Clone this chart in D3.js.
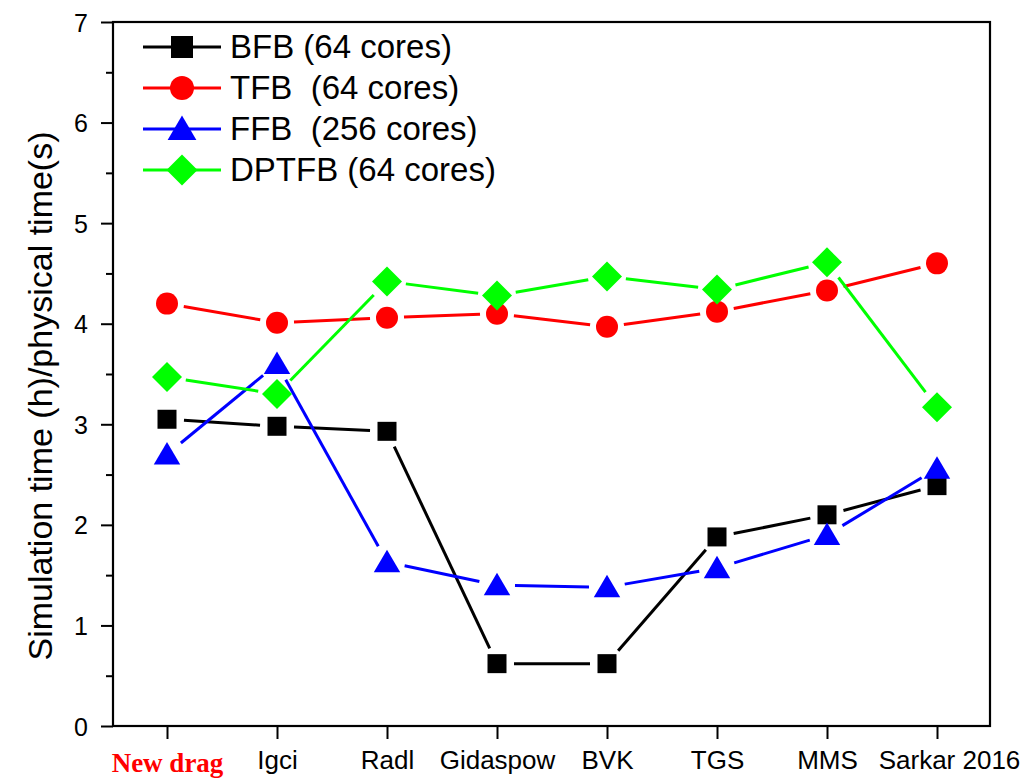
<!DOCTYPE html>
<html>
<head>
<meta charset="utf-8">
<script src="https://cdn.jsdelivr.net/npm/d3@7"></script>
<style>
  html, body { margin: 0; padding: 0; background: #fff; }
  svg { display: block; }
</style>
</head>
<body>
<svg id="chart" width="1031" height="779"></svg>
<script>
// Drag models compared
const categories = ["New drag", "Igci", "Radl", "Gidaspow", "BVK", "TGS", "MMS", "Sarkar 2016"];

// Simulation time (h) per physical time (s)
const bfb   = [3.05, 2.98, 2.93, 0.62, 0.62, 1.88, 2.10, 2.39];
const tfb   = [4.20, 4.01, 4.06, 4.10, 3.97, 4.12, 4.33, 4.60];
const ffb   = [2.70, 3.60, 1.63, 1.40, 1.38, 1.57, 1.90, 2.56];
const dptfb = [3.47, 3.30, 4.42, 4.28, 4.47, 4.34, 4.61, 3.17];

const seriesNames = ["BFB (64 cores)", "TFB  (64 cores)", "FFB  (256 cores)", "DPTFB (64 cores)"];
const yTicks = [0, 1, 2, 3, 4, 5, 6, 7];
const yMinorTicks = [0.5, 1.5, 2.5, 3.5, 4.5, 5.5, 6.5];

const series = [
  { name: seriesNames[0], values: bfb,   color: "#000000", shape: "square"   },
  { name: seriesNames[1], values: tfb,   color: "#ff0000", shape: "circle"   },
  { name: seriesNames[2], values: ffb,   color: "#0000ff", shape: "triangle" },
  { name: seriesNames[3], values: dptfb, color: "#00ff00", shape: "diamond"  }
];

const SANS = "'Liberation Sans', Arial, sans-serif";
const SERIF = "'Liberation Serif', 'Times New Roman', serif";

const svg = d3.select("#chart");
const box = { left: 113, right: 990, top: 22, bottom: 726 };

const x = d3.scalePoint().domain(categories).range([167, 937]);
const y = d3.scaleLinear().domain([0, 7]).range([box.bottom, box.top]);

// marker paths, sized in px
function markerPath(shape, s) {
  const h = s / 2;
  switch (shape) {
    case "square":   return `M${-h},${-h}H${h}V${h}H${-h}Z`;
    case "circle":   return `M${h},0A${h},${h} 0 1,1 ${-h},0A${h},${h} 0 1,1 ${h},0Z`;
    case "triangle": { const w = s * 1.15 / 2, t = s * 0.98; return `M0,${-t * 0.55}L${w},${t * 0.45}L${-w},${t * 0.45}Z`; }
    case "diamond":  return `M0,${-h}L${h},0L0,${h}L${-h},0Z`;
  }
}
const markerSize = { square: 19, circle: 22, triangle: 23, diamond: 30 };
const gapRadius  = { square: 17, circle: 17, triangle: 18, diamond: 19 };

// left axis: major + minor ticks, outward
const yAxisMajor = d3.axisLeft(y).tickValues(yTicks).tickSize(12).tickPadding(13).tickFormat(d3.format("d"));
const yAxisMinor = d3.axisLeft(y).tickValues(yMinorTicks).tickSize(7).tickFormat("");

const gyMinor = svg.append("g").attr("transform", `translate(${box.left},0)`).call(yAxisMinor);
const gyMajor = svg.append("g").attr("transform", `translate(${box.left},0)`).call(yAxisMajor);
[gyMinor, gyMajor].forEach(g => {
  g.select(".domain").remove();
  g.selectAll(".tick line").attr("stroke", "#000").attr("stroke-width", 2);
});
gyMajor.selectAll(".tick text")
  .style("font-family", SANS)
  .style("font-size", "25px")
  .style("fill", "#000")
  .attr("dy", "0.36em");

// bottom axis
const xAxis = d3.axisBottom(x).tickSize(13).tickPadding(0);
const gx = svg.append("g").attr("transform", `translate(0,${box.bottom})`).call(xAxis);
gx.select(".domain").remove();
gx.selectAll(".tick line").attr("stroke", "#000").attr("stroke-width", 2);
gx.selectAll(".tick text")
  .attr("y", 43).attr("dy", 0)
  .style("font-family", SANS)
  .style("font-size", "26px")
  .style("fill", "#000")
  .attr("dx", (d, i) => i === categories.length - 1 ? 12 : 0);
gx.selectAll(".tick text").filter(d => d === categories[0])
  .attr("y", 46)
  .style("font-family", SERIF)
  .style("font-weight", "bold")
  .style("font-size", "27px")
  .style("fill", "#ff0000");

// frame
svg.append("rect")
  .attr("x", box.left).attr("y", box.top)
  .attr("width", box.right - box.left).attr("height", box.bottom - box.top)
  .attr("fill", "none").attr("stroke", "#000").attr("stroke-width", 2.2);

// y axis title
svg.append("text")
  .attr("transform", `translate(52,396) rotate(-90)`)
  .attr("text-anchor", "middle")
  .style("font-family", SANS)
  .style("font-size", "34px")
  .text("Simulation time (h)/physical time(s)");

// series: line segments stop short of the markers, then markers
series.forEach(s => {
  const g = svg.append("g");
  const pts = s.values.map((v, i) => [x(categories[i]), y(v)]);
  const gr = gapRadius[s.shape];
  for (let i = 0; i < pts.length - 1; i++) {
    const [x1, y1] = pts[i], [x2, y2] = pts[i + 1];
    const L = Math.hypot(x2 - x1, y2 - y1);
    if (L <= 2 * gr) continue;
    const ux = (x2 - x1) / L, uy = (y2 - y1) / L;
    g.append("line")
      .attr("x1", x1 + ux * gr).attr("y1", y1 + uy * gr)
      .attr("x2", x2 - ux * gr).attr("y2", y2 - uy * gr)
      .attr("stroke", s.color).attr("stroke-width", 3);
  }
  g.selectAll("path.mk").data(pts).join("path")
    .attr("class", "mk")
    .attr("transform", d => `translate(${d[0]},${d[1]})`)
    .attr("d", markerPath(s.shape, markerSize[s.shape]))
    .attr("fill", s.color);
});

// legend
const legend = svg.append("g");
const rowY = [47, 88, 129, 170];
series.forEach((s, i) => {
  const row = legend.append("g").attr("transform", `translate(0,${rowY[i]})`);
  row.append("line").attr("x1", 143).attr("x2", 221).attr("y1", 0).attr("y2", 0)
    .attr("stroke", s.color).attr("stroke-width", 3);
  const legSize = { square: 22, circle: 24, triangle: 25, diamond: 31 }[s.shape];
  row.append("path").attr("transform", "translate(182,0)")
    .attr("d", markerPath(s.shape, legSize)).attr("fill", s.color);
  row.append("text").attr("x", 230).attr("y", 11)
    .style("font-family", SANS)
    .style("font-size", "33px")
    .style("fill", "#000")
    .style("white-space", "pre")
    .text(s.name);
});
</script>
</body>
</html>
